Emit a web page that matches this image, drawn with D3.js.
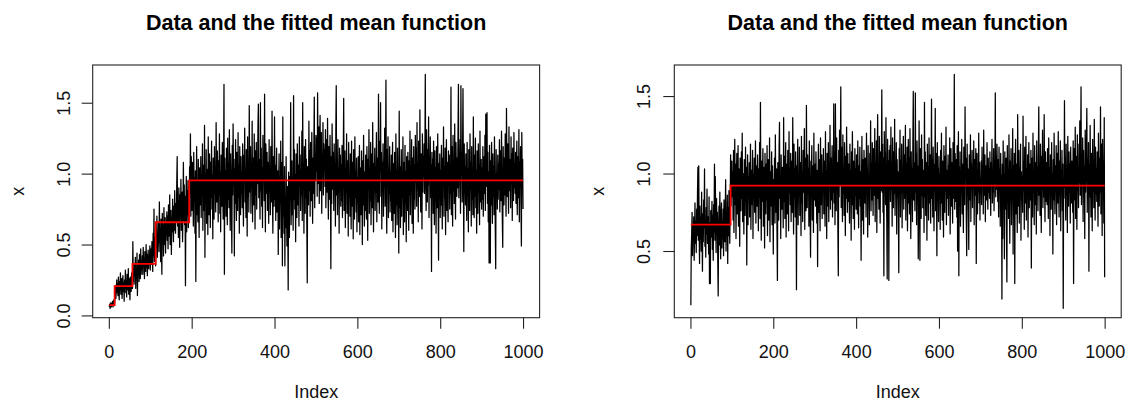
<!DOCTYPE html>
<html><head><meta charset="utf-8">
<script src="https://cdn.jsdelivr.net/npm/d3@7"></script>
<style>html,body{margin:0;padding:0;background:#fff;} svg{display:block;}</style>
</head><body>
<svg id="chart" width="1127" height="403"></svg>
<script>
const indexTicks = [0, 200, 400, 600, 800, 1000];
const leftYTicks = [0, 0.5, 1.0, 1.5];
const rightYTicks = [0.5, 1.0, 1.5];
const titleText = "Data and the fitted mean function";
const xLabelText = "Index";
const yLabelText = "x";

// fitted mean (step function): change points (index) and levels
const leftBreaks = [1, 14, 57, 113, 194, 1000];
const leftLevels = [0.072, 0.207, 0.363, 0.657, 0.952];
const rightBreaks = [1, 97, 1000];
const rightLevels = [0.670, 0.922];

// observed series, index 1..1000
const leftSeries = [
0.06,0.08,0.05,0.07,0.09,0.06,0.08,0.07,0.10,0.06,0.08,0.11,0.07,0.09,0.14,0.21,0.12,0.18,0.25,0.16,
0.22,0.14,0.27,0.19,0.11,0.24,0.18,0.30,0.15,0.21,0.26,0.12,0.20,0.28,0.17,0.23,0.10,0.25,0.19,0.32,
0.16,0.24,0.13,0.29,0.21,0.18,0.33,0.15,0.26,0.20,0.11,0.27,0.23,0.17,0.30,0.25,0.19,0.52,0.24,0.31,
0.22,0.36,0.28,0.41,0.19,0.33,0.27,0.44,0.14,0.35,0.30,0.39,0.24,0.43,0.31,0.26,0.47,0.29,0.37,0.33,
0.42,0.29,0.48,0.35,0.40,0.26,0.45,0.37,0.31,0.50,0.34,0.43,0.28,0.39,0.46,0.33,0.41,0.36,0.49,0.32,
0.40,0.47,0.36,0.52,0.44,0.31,0.58,0.42,0.75,0.38,0.49,0.55,0.35,0.62,0.48,0.70,0.41,0.57,0.51,0.66,
0.45,0.80,0.52,0.61,0.38,0.68,0.49,0.29,0.72,0.55,0.63,0.42,0.76,0.58,0.50,0.69,0.44,0.65,0.57,0.73,
0.53,0.70,0.47,0.78,0.61,0.56,0.85,0.50,0.67,0.74,0.43,0.69,0.59,0.82,0.64,0.52,0.77,0.60,0.88,0.66,
0.58,0.79,0.66,0.94,1.12,0.63,0.81,0.55,0.90,0.72,0.48,0.85,0.69,0.96,0.60,0.78,0.87,0.52,0.75,1.08,
0.67,0.92,0.64,0.84,0.21,0.76,0.98,0.59,0.88,0.71,0.95,0.62,0.83,0.74,1.05,0.86,1.28,0.70,1.12,0.93,
0.74,1.08,0.92,0.63,1.15,0.81,0.97,0.58,1.02,0.24,0.86,1.19,0.71,0.95,0.66,1.10,0.83,0.55,1.04,0.90,
0.78,1.12,0.69,0.97,0.85,1.21,0.60,0.93,1.06,0.74,1.34,0.41,0.99,0.82,1.17,0.65,0.90,1.03,0.57,1.26,
0.88,0.71,1.14,0.96,0.62,1.08,0.83,1.23,0.75,0.99,0.54,1.11,0.91,0.68,1.19,0.86,1.02,0.73,1.36,0.94,
0.80,1.16,0.97,0.66,1.09,0.85,1.28,0.72,1.01,0.59,1.13,0.90,0.77,1.22,0.95,0.68,1.05,1.63,0.29,1.11,
0.87,1.02,0.70,1.18,0.93,0.64,1.25,0.82,1.07,0.76,1.31,0.91,0.60,1.14,0.98,0.73,0.44,1.20,0.85,1.35,
0.92,1.10,0.42,1.03,0.79,1.24,0.88,0.67,1.15,0.97,0.74,1.29,0.83,1.06,0.58,1.19,0.94,0.71,1.12,0.86,
1.01,0.76,1.21,0.89,0.63,1.13,0.95,1.32,0.80,1.04,0.69,1.17,0.92,0.56,1.26,0.84,1.08,0.73,1.48,0.98,
0.87,1.19,0.72,1.05,0.94,1.37,0.66,1.11,0.90,0.78,1.28,0.99,0.61,1.16,0.85,1.22,0.75,1.07,0.93,1.33,
1.49,0.83,1.10,0.96,0.68,1.50,0.88,1.18,0.77,1.04,0.62,1.27,0.95,1.13,0.81,1.56,0.92,0.59,1.21,1.02,
0.86,1.15,0.74,1.08,0.97,0.65,1.24,0.89,1.03,0.71,1.19,0.93,0.80,1.44,0.84,0.58,1.12,0.95,0.77,1.40,
0.82,1.06,0.67,0.95,1.18,0.73,0.90,1.02,0.43,0.88,1.14,0.61,0.97,0.79,1.23,0.55,0.92,1.08,0.35,1.40,
0.70,0.96,0.58,1.05,0.35,0.84,0.62,1.12,0.76,0.49,0.91,0.66,0.18,1.01,0.73,0.55,0.98,0.81,1.50,0.64,
0.86,1.09,0.71,0.93,0.60,1.55,0.82,1.17,0.75,0.99,0.52,1.14,0.88,0.69,1.21,0.94,0.78,1.06,0.63,1.26,
0.91,1.13,0.74,1.02,0.85,1.30,0.67,1.50,0.89,1.07,0.58,1.19,0.96,0.72,1.24,0.83,1.10,0.64,0.23,1.05,
0.97,0.78,1.37,0.88,1.16,0.70,1.22,1.01,0.81,1.29,0.93,0.65,1.11,0.86,1.19,1.54,0.76,1.08,0.95,1.27,
1.02,1.25,0.84,1.57,1.10,0.93,1.33,0.79,1.18,1.41,0.88,1.06,1.29,0.72,1.14,0.98,1.36,0.85,1.21,1.04,
1.17,0.91,1.31,0.76,1.08,1.24,0.87,1.39,0.97,0.68,1.19,1.03,0.82,1.27,0.94,0.33,1.12,0.79,1.35,1.00,
0.89,1.15,0.74,1.21,0.96,1.07,0.63,1.30,1.62,0.85,1.10,0.71,1.24,0.92,1.03,0.58,1.18,0.88,1.13,0.77,
1.06,0.81,1.20,0.69,0.98,1.11,1.53,0.74,0.93,1.16,0.62,1.04,0.87,1.28,0.72,0.95,1.09,0.56,1.22,0.84,
0.99,0.70,1.14,0.86,0.61,1.23,0.90,0.77,1.08,0.54,1.17,0.95,0.68,1.26,0.83,1.02,0.73,1.11,0.59,0.97,
0.80,1.12,0.66,0.95,1.20,0.57,1.04,0.84,0.71,1.16,0.92,0.50,1.09,0.78,1.27,0.87,0.63,1.01,0.74,1.13,
0.85,0.68,1.19,0.96,0.53,1.10,0.89,1.31,0.72,1.03,0.81,1.22,0.64,0.98,1.14,0.76,1.36,0.90,0.59,1.07,
0.93,1.18,0.74,1.05,0.87,1.29,0.66,1.11,0.99,0.80,1.56,0.91,0.72,1.23,1.02,1.50,0.84,1.15,0.61,1.08,
0.88,1.21,0.70,1.03,0.95,1.32,0.77,1.10,1.66,0.82,0.58,1.17,0.93,1.26,0.69,1.04,0.86,1.19,0.73,1.01,
0.81,1.13,0.67,0.96,1.22,0.59,1.07,0.85,0.72,1.15,0.92,0.55,1.28,0.78,1.02,0.64,1.18,0.87,0.96,0.44,
1.44,0.76,1.05,0.62,0.94,1.17,0.70,0.99,0.83,1.26,0.57,1.08,0.88,0.66,1.20,0.79,1.01,0.52,1.12,0.90,
0.74,1.15,0.93,0.60,1.09,0.85,1.30,0.71,1.02,0.88,1.24,0.65,1.11,0.97,0.58,1.19,0.82,1.06,0.75,1.27,
0.94,1.18,0.77,1.36,0.89,1.07,0.66,1.23,1.01,0.84,1.45,0.92,0.73,1.14,1.04,0.61,1.28,0.87,1.12,0.98,
1.21,0.86,1.09,1.70,0.95,0.74,1.31,1.03,0.80,1.17,0.92,1.40,0.69,1.12,0.99,1.26,0.83,1.06,0.31,1.15,
0.88,1.10,0.72,1.23,0.95,0.64,1.16,0.81,1.04,0.58,1.19,0.90,0.76,1.28,0.85,0.39,1.07,0.93,1.14,0.69,
1.02,0.78,1.20,0.87,0.61,1.11,0.95,1.33,0.70,1.05,0.83,1.18,0.57,0.99,1.24,0.74,1.08,0.89,0.66,1.16,
0.92,1.13,0.75,1.01,0.86,1.61,0.71,1.19,0.97,0.63,1.27,0.88,1.06,0.79,1.35,0.94,0.68,1.22,1.03,0.84,
1.11,0.90,1.29,1.63,0.83,1.07,0.96,1.24,0.72,1.62,0.99,1.15,0.80,1.18,1.60,0.93,0.45,1.21,0.87,1.05,
0.78,1.14,0.92,0.67,1.22,0.85,1.03,0.59,1.17,0.96,0.74,1.28,0.89,1.08,0.63,1.19,0.82,1.01,0.71,1.40,
0.91,0.69,1.13,0.84,1.25,0.76,1.02,0.58,1.16,0.93,0.72,1.21,0.87,1.06,0.64,1.30,0.80,0.98,1.10,0.75,
1.04,0.82,1.19,0.70,0.97,1.12,0.86,1.27,0.74,1.42,0.91,1.08,1.43,0.79,1.15,0.66,1.01,0.37,1.20,0.89,
0.37,1.09,0.78,1.22,0.93,0.65,1.14,0.84,1.05,0.71,1.26,0.90,0.61,0.33,1.17,0.87,1.00,0.75,1.13,0.82,
1.07,0.89,1.24,0.73,1.02,1.16,0.81,1.30,0.94,0.66,0.48,1.19,0.97,0.78,1.11,0.85,1.28,0.92,0.70,1.46,
1.05,0.84,1.21,0.95,0.72,1.33,0.88,1.10,1.01,0.76,1.26,0.93,1.14,0.67,1.18,0.99,0.81,1.29,0.90,1.07,
0.86,1.15,0.79,1.02,1.23,0.71,0.97,1.12,0.83,1.31,0.66,1.08,0.92,1.19,0.78,0.49,1.29,0.94,1.10,0.75
];

const rightSeries = [
0.15,0.52,0.61,0.75,0.47,0.66,0.58,0.72,0.44,0.63,0.81,0.55,0.69,0.49,0.77,0.60,0.86,1.04,0.57,1.05,
0.64,0.42,0.79,0.58,0.71,0.50,0.88,0.62,0.37,0.74,0.56,0.83,0.65,1.03,0.53,0.70,0.46,0.78,0.61,0.90,
0.55,0.72,0.63,0.48,0.85,0.29,0.68,0.29,0.76,0.59,0.67,0.82,0.51,0.73,0.44,0.80,0.62,1.06,0.57,0.98,
0.70,0.49,0.84,0.61,0.75,0.43,0.21,0.66,0.79,0.54,0.88,0.60,0.45,0.72,0.81,0.52,0.69,0.58,0.77,0.47,
0.83,0.63,0.56,0.74,0.96,0.50,0.71,0.65,0.86,0.42,0.78,0.60,0.89,0.68,0.55,0.81,1.12,0.79,0.95,1.08,
0.85,1.01,0.70,1.15,0.62,0.94,1.22,0.80,1.06,0.58,0.97,1.13,0.74,0.89,1.18,0.66,1.03,0.87,0.53,1.10,
0.92,0.76,1.14,0.84,1.26,0.69,1.00,0.88,0.61,1.09,0.95,0.73,1.17,0.82,1.04,0.41,0.90,1.12,0.67,0.98,
0.86,1.07,0.72,0.95,1.19,0.64,1.02,0.80,0.91,1.15,0.58,0.99,0.84,1.10,0.75,0.93,1.21,0.68,1.05,0.87,
0.79,1.12,0.94,0.63,1.03,0.85,1.20,0.71,1.46,0.90,0.57,1.08,0.82,0.97,1.16,0.66,0.88,1.04,0.52,1.13,
0.91,0.74,1.06,0.83,1.18,0.60,0.95,1.09,0.70,0.87,1.23,0.56,1.01,0.79,0.93,1.14,0.67,1.05,0.85,0.48,
0.96,0.81,1.10,0.68,1.25,0.89,0.75,1.03,0.62,0.31,1.07,0.92,0.70,1.16,1.33,0.84,0.99,0.58,1.12,0.87,
0.77,1.04,0.93,0.65,1.36,0.82,1.11,0.71,0.98,1.20,0.59,1.06,0.86,0.74,1.15,0.95,0.63,1.27,0.88,1.02,
0.80,1.13,0.69,0.97,1.08,0.75,1.36,0.90,0.61,1.19,0.85,1.03,0.72,1.14,0.94,0.25,1.05,0.83,1.22,0.67,
0.99,0.86,1.17,0.73,1.07,0.92,0.60,1.24,0.81,1.01,0.69,1.15,0.88,0.96,1.29,0.64,1.10,0.84,0.76,1.44,
0.93,0.78,1.12,0.87,1.03,0.66,1.21,0.91,0.74,0.46,1.08,0.95,1.18,0.70,0.89,1.05,0.62,1.26,0.83,0.98,
1.06,0.79,1.14,0.90,0.68,1.02,0.40,0.96,1.19,0.75,1.09,0.85,0.63,1.23,0.93,0.80,1.12,0.71,1.00,0.88,
1.16,0.74,0.97,1.08,0.66,1.27,0.86,1.02,0.58,1.13,0.91,0.79,1.20,0.69,1.05,0.94,1.31,0.77,1.10,0.83,
0.95,1.18,0.72,1.04,0.88,1.45,0.81,1.12,0.67,1.45,0.99,0.76,1.23,0.90,1.07,0.62,0.34,1.15,0.85,1.28,
0.93,1.09,1.56,0.78,1.17,0.96,0.69,1.25,0.87,1.04,0.73,1.20,0.91,0.60,1.11,0.84,1.30,0.98,0.75,1.13,
0.82,1.06,0.95,0.68,1.19,0.89,1.02,0.57,1.14,0.80,1.27,0.93,0.71,1.08,0.99,0.64,1.16,0.86,1.03,0.77,
1.12,0.90,0.74,1.21,0.97,0.65,1.05,0.84,1.17,0.79,1.01,0.44,0.94,1.24,0.70,1.09,0.87,0.61,1.15,0.92,
0.81,1.10,0.96,0.72,1.26,0.88,1.03,0.59,1.18,0.85,0.99,0.67,1.13,0.91,1.34,0.76,1.06,0.83,1.20,0.94,
0.73,1.16,0.98,0.86,1.29,0.69,1.07,0.90,1.21,0.62,1.11,1.38,0.84,1.02,0.77,1.24,0.95,0.68,1.14,0.89,
1.05,1.54,0.88,1.19,0.75,1.10,0.34,1.27,0.93,1.13,0.80,1.36,0.97,0.71,0.32,1.22,0.87,1.08,0.31,1.15,
0.96,1.18,0.82,1.30,0.90,1.07,0.66,1.23,0.99,0.78,1.14,0.87,1.35,0.73,1.04,0.93,1.20,0.61,1.09,0.85,
1.01,0.79,0.36,1.16,0.94,1.28,0.72,1.08,0.88,1.19,0.65,1.03,0.91,1.24,0.77,1.12,0.84,0.99,1.31,0.70,
1.06,0.89,1.17,0.63,0.98,1.22,0.81,1.10,0.74,1.29,0.92,0.58,1.14,0.86,1.03,0.69,1.19,1.53,0.83,1.07,
0.95,0.76,1.52,0.88,1.13,0.67,1.21,0.93,1.05,0.45,0.82,1.34,0.98,0.44,1.16,0.90,0.71,1.25,0.86,1.09,
0.78,1.02,0.93,0.62,1.46,0.85,1.14,0.73,1.07,0.96,0.57,1.19,0.88,1.04,0.70,1.23,0.91,0.81,1.12,0.68,
1.00,1.48,0.84,1.09,0.72,1.17,0.95,0.63,1.06,0.89,1.42,0.76,1.13,0.92,0.47,1.20,0.83,1.03,0.69,1.11,
0.87,0.99,0.64,1.15,0.81,1.26,0.93,0.70,1.08,0.85,0.59,1.18,0.96,0.75,1.11,0.89,1.30,0.67,1.02,0.84,
0.94,1.12,0.73,1.05,0.86,1.23,0.61,0.98,1.16,0.79,1.07,0.90,0.68,1.20,0.84,1.01,1.64,0.77,1.13,0.95,
0.82,1.09,0.72,1.18,0.50,0.96,1.27,0.34,1.04,0.87,1.14,0.66,1.00,0.91,1.22,0.74,1.06,0.85,0.62,1.17,
0.93,0.80,1.43,0.97,1.10,0.71,0.47,1.19,0.88,1.03,0.76,0.51,1.12,0.94,0.83,1.25,0.69,1.06,0.90,1.15,
0.78,1.04,0.92,1.21,0.67,1.09,0.86,0.99,1.16,0.42,0.95,1.13,0.74,1.02,0.88,1.26,0.81,1.07,0.70,0.97,
0.89,1.08,0.80,1.17,0.93,1.02,0.74,1.28,0.86,0.97,1.12,0.69,1.05,0.91,0.83,1.20,0.95,0.77,1.10,0.88,
1.03,0.84,1.14,0.92,0.73,1.07,0.97,1.22,0.81,1.00,0.88,1.16,0.76,1.05,0.94,1.52,0.85,1.11,0.90,1.19,
0.96,0.82,1.09,0.72,1.17,0.93,1.03,0.66,1.13,0.87,0.99,0.19,1.06,0.58,1.21,0.84,1.00,0.45,1.14,0.77,
0.92,1.10,0.63,0.30,1.18,0.86,1.02,0.71,1.25,0.94,0.55,1.08,0.83,1.16,0.67,1.00,0.89,1.29,0.48,1.05,
0.80,1.13,0.29,0.97,1.22,0.74,1.06,0.88,0.62,1.38,0.93,0.79,1.15,0.68,1.04,0.91,1.19,0.57,1.01,0.85,
0.98,0.75,1.37,0.89,1.08,0.64,1.17,0.93,0.81,1.24,0.70,1.03,0.87,1.12,0.59,0.96,1.20,0.78,1.06,0.90,
0.83,1.15,0.39,0.99,1.10,0.72,1.26,0.88,1.02,0.67,1.18,0.94,0.80,1.07,0.61,1.21,0.91,1.04,0.76,1.13,
1.43,0.86,1.05,0.73,1.19,0.95,0.62,1.11,0.90,1.28,0.78,1.01,0.85,1.38,0.96,0.69,1.14,0.82,1.07,0.93,
0.80,1.16,0.97,0.71,1.23,0.88,1.04,0.60,1.12,0.94,0.77,1.20,0.86,1.00,0.48,1.09,0.83,1.26,0.92,0.74,
1.05,0.89,1.18,0.67,0.99,1.13,0.81,1.27,0.93,0.72,1.08,0.86,1.21,0.63,1.02,0.90,1.15,0.76,1.06,0.13,
0.97,0.84,1.47,0.91,1.10,0.70,1.19,0.87,1.03,0.62,1.24,0.95,0.79,1.14,0.88,1.06,0.68,1.17,0.93,0.81,
1.08,0.92,0.75,1.21,0.29,1.00,1.16,0.83,1.30,0.71,0.96,1.11,0.64,1.25,0.89,1.03,0.78,1.19,0.94,1.34,
0.86,1.12,1.56,0.80,1.07,0.95,1.23,0.69,1.15,0.91,1.04,0.58,1.28,0.88,0.99,1.18,1.42,0.75,1.09,0.93,
1.20,0.37,1.06,0.85,1.31,0.94,0.72,1.13,1.00,0.63,1.22,0.89,1.08,0.78,1.35,0.96,0.70,1.17,0.87,1.03,
0.82,1.14,0.93,0.66,1.26,1.01,0.79,1.10,0.88,1.43,0.74,1.19,0.97,0.60,1.22,0.90,1.08,0.68,1.36,0.33
];

const panels = [
  { series: leftSeries, breaks: leftBreaks, levels: leftLevels, yTicks: leftYTicks,
    box: { x0: 92.7, x1: 539.6, y0: 65, y1: 317.7 }, yTickLabelX: 70, yLabelX: 23.5 },
  { series: rightSeries, breaks: rightBreaks, levels: rightLevels, yTicks: rightYTicks,
    box: { x0: 674.3, x1: 1121.2, y0: 65, y1: 317.7 }, yTickLabelX: 650, yLabelX: 604 }
];

const FONT = "'Liberation Sans', Arial, Helvetica, sans-serif";
const svg = d3.select("#chart");

function rRange(lo, hi) { const d = (hi - lo) * 0.04; return [lo - d, hi + d]; }

panels.forEach(p => {
  const n = p.series.length;
  const b = p.box;
  const x = d3.scaleLinear().domain(rRange(1, n)).range([b.x0, b.x1]);
  const ext = d3.extent(p.series);
  const y = d3.scaleLinear().domain(rRange(ext[0], ext[1])).range([b.y1, b.y0]);
  const g = svg.append("g");
  const cx = (b.x0 + b.x1) / 2, cy = (b.y0 + b.y1) / 2;

  // data line
  const line = d3.line().x((d, i) => x(i + 1)).y(d => y(d));
  g.append("path").datum(p.series).attr("d", line)
    .attr("fill", "none").attr("stroke", "#000").attr("stroke-width", 1.25)
    .attr("stroke-linejoin", "round");

  // fitted mean step function
  const stepPts = p.breaks.map((bk, i) => [bk, p.levels[Math.min(i, p.levels.length - 1)]]);
  const stepLine = d3.line().x(d => x(d[0])).y(d => y(d[1])).curve(d3.curveStepAfter);
  g.append("path").datum(stepPts).attr("d", stepLine)
    .attr("fill", "none").attr("stroke", "#ff0000").attr("stroke-width", 1.8);

  // box
  g.append("rect").attr("x", b.x0).attr("y", b.y0)
    .attr("width", b.x1 - b.x0).attr("height", b.y1 - b.y0)
    .attr("fill", "none").attr("stroke", "#222").attr("stroke-width", 1.1);

  // x axis
  const xa = g.append("g").attr("transform", `translate(0,${b.y1})`)
    .call(d3.axisBottom(x).tickValues(indexTicks).tickSize(11).tickPadding(17).tickFormat(d3.format("d")));
  xa.select(".domain").remove();
  xa.selectAll(".tick line").attr("stroke", "#222").attr("stroke-width", 1.1);
  xa.selectAll(".tick text").attr("fill", "#111").style("font-family", FONT).style("font-size", "18px");

  // y axis
  const ya = g.append("g").attr("transform", `translate(${b.x0},0)`)
    .call(d3.axisLeft(y).tickValues(p.yTicks).tickSize(11).tickFormat(d3.format(".1f")));
  ya.select(".domain").remove();
  ya.selectAll(".tick line").attr("stroke", "#222").attr("stroke-width", 1.1);
  ya.selectAll(".tick text")
    .attr("x", 0).attr("dy", 0).attr("text-anchor", "middle")
    .attr("transform", `translate(${p.yTickLabelX - b.x0},0) rotate(-90)`)
    .attr("fill", "#111").style("font-family", FONT).style("font-size", "18px");

  // title
  g.append("text").attr("x", cx).attr("y", 30).attr("text-anchor", "middle")
    .style("font-family", FONT).style("font-size", "21.5px").style("font-weight", "bold")
    .attr("fill", "#000").text(titleText);

  // axis labels
  g.append("text").attr("x", cx).attr("y", 398).attr("text-anchor", "middle")
    .style("font-family", FONT).style("font-size", "18px").attr("fill", "#111").text(xLabelText);
  g.append("text").attr("transform", `translate(${p.yLabelX},${cy}) rotate(-90)`)
    .attr("text-anchor", "middle")
    .style("font-family", FONT).style("font-size", "18px").attr("fill", "#111").text(yLabelText);
});
</script>
</body></html>
